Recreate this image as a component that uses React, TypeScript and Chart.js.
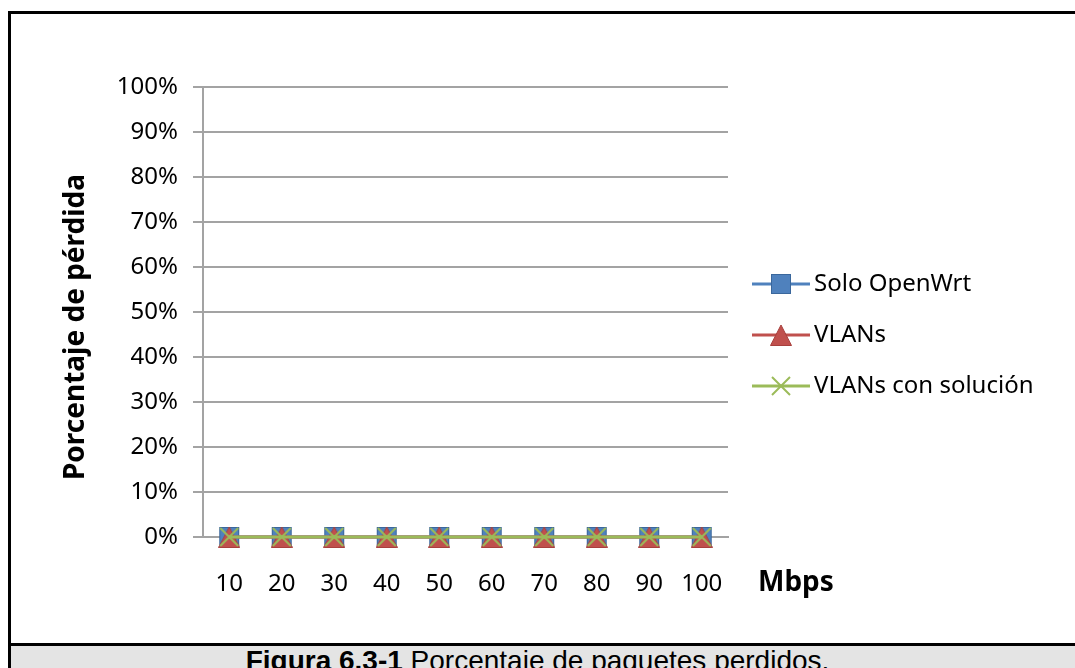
import React, { useEffect, useRef } from 'react';
import { Chart, registerables } from 'chart.js';

Chart.register(...registerables);

// ---- Data ----
const categories = ['10', '20', '30', '40', '50', '60', '70', '80', '90', '100'];
const soloOpenWrt = [0, 0, 0, 0, 0, 0, 0, 0, 0, 0];
const vlans = [0, 0, 0, 0, 0, 0, 0, 0, 0, 0];
const vlansConSolucion = [0, 0, 0, 0, 0, 0, 0, 0, 0, 0];
const seriesLabels = ['Solo OpenWrt', 'VLANs', 'VLANs con solución'];
const yMin = 0;
const yMax = 100;
const yStep = 10;
const xTitle = 'Mbps';
const yTitle = 'Porcentaje de pérdida';
const captionBold = 'Figura 6.3-1';
const captionText = ' Porcentaje de paquetes perdidos.';

// ---- Styles ----
const FONT = '"Noto Sans", "DejaVu Sans", sans-serif';
const GRID = '#a3a3a3';
const BLUE = '#4F81BD';
const RED = '#C0504D';
const GREEN = '#9BBB59';

function makeMarker(kind: string): HTMLCanvasElement {
  const c = document.createElement('canvas');
  const size = 22;
  c.width = size;
  c.height = size;
  const ctx = c.getContext('2d')!;
  if (kind === 'square') {
    ctx.fillStyle = BLUE;
    ctx.fillRect(1, 1, 20, 20);
    ctx.strokeStyle = '#3A679C';
    ctx.lineWidth = 1;
    ctx.strokeRect(1.5, 1.5, 19, 19);
  } else if (kind === 'triangle') {
    ctx.fillStyle = RED;
    ctx.strokeStyle = '#A8403D';
    ctx.lineWidth = 1;
    ctx.beginPath();
    ctx.moveTo(11, 1);
    ctx.lineTo(21.5, 21.5);
    ctx.lineTo(0.5, 21.5);
    ctx.closePath();
    ctx.fill();
    ctx.stroke();
  } else {
    ctx.strokeStyle = GREEN;
    ctx.lineWidth = 2;
    ctx.beginPath();
    ctx.moveTo(2, 2);
    ctx.lineTo(20, 20);
    ctx.moveTo(20, 2);
    ctx.lineTo(2, 20);
    ctx.stroke();
  }
  return c;
}

const overlayPlugin = {
  id: 'overlay',
  afterDraw(chart: any) {
    const ctx = chart.ctx as CanvasRenderingContext2D;
    const area = chart.chartArea;
    // Y axis title
    ctx.save();
    ctx.font = `bold 28px ${FONT}`;
    ctx.fillStyle = '#000';
    ctx.translate(76, (area.top + area.bottom) / 2 + 15);
    ctx.rotate(-Math.PI / 2);
    ctx.textAlign = 'center';
    ctx.textBaseline = 'middle';
    ctx.fillText(yTitle, 0, 0);
    ctx.restore();

    // X axis title
    ctx.save();
    ctx.font = `bold 28px ${FONT}`;
    ctx.fillStyle = '#000';
    ctx.textAlign = 'left';
    ctx.textBaseline = 'middle';
    ctx.fillText(xTitle, area.right + 30, area.bottom + 46);
    ctx.restore();

    // Legend
    const datasets = chart.data.datasets;
    const lx = area.right + 24;
    const ly0 = 284;
    const gap = 51;
    datasets.forEach((ds: any, i: number) => {
      const y = ly0 + i * gap;
      ctx.save();
      ctx.strokeStyle = ds.borderColor;
      ctx.lineWidth = 3;
      ctx.beginPath();
      ctx.moveTo(lx, y);
      ctx.lineTo(lx + 58, y);
      ctx.stroke();
      const img = ds.pointStyle as HTMLCanvasElement;
      ctx.drawImage(img, lx + 29 - img.width / 2, y - img.height / 2);
      ctx.font = `24px ${FONT}`;
      ctx.fillStyle = '#000';
      ctx.textAlign = 'left';
      ctx.textBaseline = 'middle';
      ctx.fillText(ds.label, lx + 62, y);
      ctx.restore();
    });
  },
};

export default function App() {
  const ref = useRef<HTMLCanvasElement>(null);

  useEffect(() => {
    if (!ref.current) return;
    const sq = makeMarker('square');
    const tri = makeMarker('triangle');
    const cr = makeMarker('cross');
    const chart = new Chart(ref.current, {
      type: 'line',
      data: {
        labels: categories,
        datasets: [
          {
            label: seriesLabels[0],
            data: soloOpenWrt,
            borderColor: BLUE,
            backgroundColor: BLUE,
            borderWidth: 3,
            pointStyle: sq as any,
            pointRadius: 11,
            order: 3,
            clip: false as any,
          },
          {
            label: seriesLabels[1],
            data: vlans,
            borderColor: RED,
            backgroundColor: RED,
            borderWidth: 3,
            pointStyle: tri as any,
            pointRadius: 11,
            order: 2,
            clip: false as any,
          },
          {
            label: seriesLabels[2],
            data: vlansConSolucion,
            borderColor: GREEN,
            backgroundColor: GREEN,
            borderWidth: 3,
            pointStyle: cr as any,
            pointRadius: 11,
            order: 1,
            clip: false as any,
          },
        ],
      },
      options: {
        animation: false,
        responsive: false,
        maintainAspectRatio: false,
        events: [],
        layout: { padding: { left: 83, right: 347, top: 87, bottom: 6 } },
        plugins: {
          legend: { display: false },
          tooltip: { enabled: false },
        },
        scales: {
          x: {
            type: 'category',
            offset: true,
            grid: { display: false, drawTicks: false },
            border: { display: true, color: GRID, width: 2 },
            ticks: {
              color: '#000',
              padding: 33,
              font: { family: FONT, size: 24 },
              maxRotation: 0,
              autoSkip: false,
            },
            afterFit: (s: any) => {
              s.height = 100;
            },
          },
          y: {
            min: yMin,
            max: yMax,
            grid: { color: GRID, lineWidth: 2, drawTicks: true, tickLength: 10 },
            border: { display: true, color: GRID, width: 2 },
            ticks: {
              stepSize: yStep,
              color: '#000',
              padding: 15,
              font: { family: FONT, size: 24 },
              callback: (v: any) => `${v}%`,
            },
            afterFit: (s: any) => {
              s.width = 120;
            },
          },
        },
      },
      plugins: [overlayPlugin],
    });
    return () => chart.destroy();
  }, []);

  return (
    <div
      style={{
        position: 'fixed',
        left: 0,
        top: 0,
        width: 1075,
        height: 668,
        background: '#fff',
        overflow: 'hidden',
      }}
    >
      <canvas
        ref={ref}
        width={1075}
        height={643}
        style={{ position: 'absolute', left: 0, top: 0, width: 1075, height: 643 }}
      />
      <div
        style={{
          position: 'absolute',
          left: 8,
          top: 11,
          width: 1200,
          height: 700,
          borderLeft: '3px solid #000',
          borderTop: '3px solid #000',
          boxSizing: 'border-box',
          pointerEvents: 'none',
        }}
      />
      <div
        style={{
          position: 'absolute',
          left: 11,
          top: 643,
          width: 1200,
          height: 3,
          background: '#000',
        }}
      />
      <div
        style={{
          position: 'absolute',
          left: 11,
          top: 646,
          width: 1200,
          height: 30,
          background: '#e4e4e4',
        }}
      />
      <div
        style={{
          position: 'absolute',
          left: 8,
          top: 648,
          width: 1059,
          textAlign: 'center',
          fontFamily: '"Liberation Sans", Arial, sans-serif',
          fontSize: 28,
          lineHeight: '26px',
          color: '#000',
          whiteSpace: 'nowrap',
        }}
      >
        <b>{captionBold}</b>
        {captionText}
      </div>
    </div>
  );
}
